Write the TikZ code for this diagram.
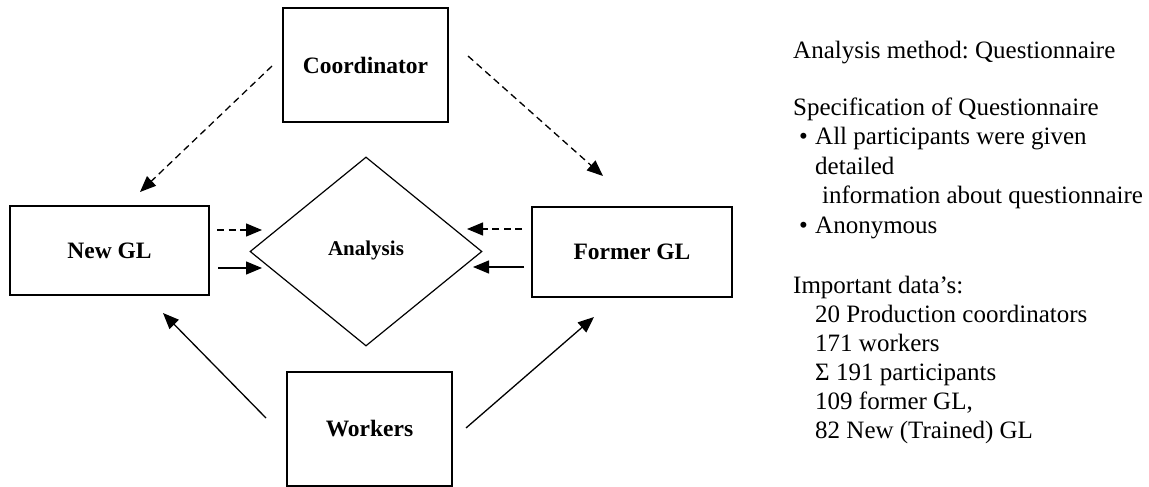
\documentclass[tikz,border=0pt]{standalone}
\usepackage{fontspec}
\setmainfont{Liberation Serif}
\usetikzlibrary{shapes.geometric,arrows.meta}
\frenchspacing
\begin{document}
\begin{tikzpicture}[x=1pt,y=-1pt,
  box/.style={draw, line width=1.4pt, inner sep=0, font=\fontsize{23.5}{28}\selectfont\bfseries},
  arr/.style={-{Triangle[length=16pt,width=13pt]}, line width=1.3pt},
  darr/.style={arr, dash pattern=on 7pt off 4.5pt},
  txt/.style={anchor=base west, inner sep=0, font=\fontsize{25}{29}\selectfont}]
\useasboundingbox (0,0) rectangle (1149,487);
% nodes
\node[box, minimum width=165pt, minimum height=114pt] (coord) at (365.5,65) {Coordinator};
\node[box, minimum width=199pt, minimum height=89pt] (newgl) at (109.5,250.5) {New GL};
\node[box, minimum width=200pt, minimum height=90pt] (formergl) at (632,252) {Former GL};
\node[box, minimum width=165pt, minimum height=114pt] (workers) at (369.5,429) {Workers};
\node[draw, diamond, line width=1.2pt, inner sep=0, minimum width=232pt, minimum height=189pt,
      font=\fontsize{21}{25}\selectfont\bfseries] (analysis) at (366,251.5) {\raisebox{6pt}{Analysis}};
% connector end points
\coordinate (c1s) at (272,66);  \coordinate (c1e) at (140,192);
\coordinate (c2s) at (468,56);  \coordinate (c2e) at (603,176);
\coordinate (n1s) at (217,230); \coordinate (n1e) at (262,230);
\coordinate (n2s) at (218,268); \coordinate (n2e) at (262,268);
\coordinate (f1s) at (522,229); \coordinate (f1e) at (467,229);
\coordinate (f2s) at (524,267); \coordinate (f2e) at (473,267);
\coordinate (w1s) at (266,418); \coordinate (w1e) at (163,313);
\coordinate (w2s) at (466,428); \coordinate (w2e) at (594,317);
% connectors
\draw[darr] (c1s) -- (c1e);
\draw[darr] (c2s) -- (c2e);
\draw[darr] (n1s) -- (n1e);
\draw[arr] (n2s) -- (n2e);
\draw[darr] (f1s) -- (f1e);
\draw[arr] (f2s) -- (f2e);
\draw[arr] (w1s) -- (w1e);
\draw[arr] (w2s) -- (w2e);
% text
\node[txt] (t1) at (793,59) {Analysis method: Questionnaire};
\node[txt] (t2) at (793,115) {Specification of Questionnaire};
\node[txt] (b1) at (799,144) {•};
\node[txt] (t3) at (815,144) {All participants were given};
\node[txt] (t4) at (815,174) {detailed};
\node[txt] (t5) at (822,203) {information about questionnaire};
\node[txt] (b2) at (799,233) {•};
\node[txt] (t6) at (815,233) {Anonymous};
\node[txt] (t7) at (793,293) {Important data’s:};
\node[txt] (t8) at (815,322) {20 Production coordinators};
\node[txt] (t9) at (815,351) {171 workers};
\node[txt] (t10) at (815,380) {Σ 191 participants};
\node[txt] (t11) at (815,409) {109 former GL,};
\node[txt] (t12) at (815,438) {82 New (Trained) GL};
\end{tikzpicture}
\end{document}
